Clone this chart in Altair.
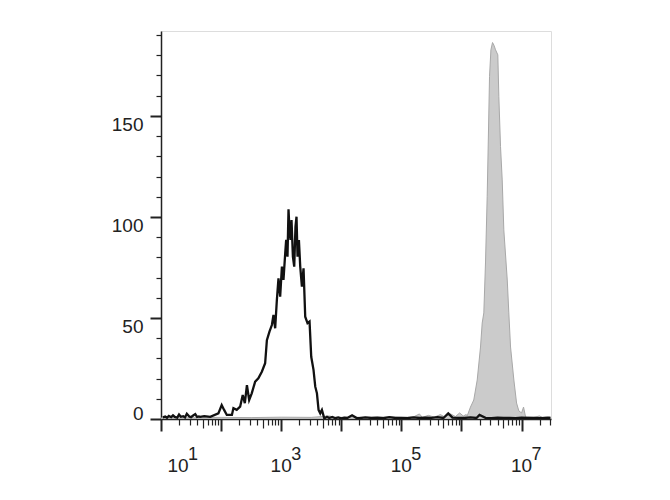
import altair as alt
import pandas as pd

# ---- data (log10 fluorescence intensity, cell count) ----
black_log = [1.03, 1.07, 1.10, 1.13, 1.17, 1.20, 1.23, 1.27, 1.30, 1.33, 1.37, 1.40, 1.43, 1.47,
             1.50, 1.53, 1.57, 1.60, 1.63, 1.65, 1.72, 1.82, 1.955, 2.01, 2.05, 2.095, 2.18, 2.205,
             2.26, 2.317, 2.36, 2.395, 2.43, 2.467, 2.51, 2.567, 2.62, 2.678, 2.733, 2.762, 2.805,
             2.845, 2.872, 2.90, 2.928, 2.955, 2.983, 3.012, 3.038, 3.067, 3.083, 3.105, 3.122,
             3.138, 3.155, 3.172, 3.195, 3.217, 3.238, 3.255, 3.272, 3.295, 3.317, 3.345, 3.372,
             3.40, 3.438, 3.472, 3.50, 3.538, 3.567, 3.595, 3.622, 3.65, 3.678, 3.717, 3.762,
             3.80, 3.85, 3.90, 3.95, 4.00, 4.05, 4.10, 4.18, 4.25, 4.30, 4.40, 4.50, 4.60, 4.70,
             4.80, 4.90, 5.00, 5.10, 5.20, 5.30, 5.40, 5.50, 5.60, 5.70, 5.78, 5.85, 5.95, 6.05,
             6.15, 6.25, 6.30, 6.40, 6.50, 6.60, 6.70, 6.80, 6.90, 7.00, 7.10, 7.20, 7.30, 7.40, 7.48]
black_cnt = [0.8, 1.2, 0.6, 1.5, 0.9, 1.8, 1.0, 0.7, 2.2, 1.1, 1.4, 0.8, 2.6, 1.2,
             0.9, 1.6, 2.4, 1.0, 1.3, 1.1, 1.4, 1.1, 2.8, 6.9, 4.5, 2.0, 2.0, 5.3,
             4.5, 6.1, 11.9, 7.8, 16.8, 9.4, 12.7, 18.5, 20.1, 23.4, 27.6, 39.0, 43.2,
             46.5, 51.5, 44.9, 58.9, 69.6, 60.5, 75.4, 68.8, 82.0, 88.6, 80.3, 103.8,
             93.6, 88.6, 98.5, 80.3, 75.4, 95.2, 100.1, 80.3, 88.6, 75.4, 65.5, 74.6,
             50.6, 47.4, 48.2, 30.8, 24.3, 16.0, 12.7, 4.5, 2.8, 4.5, 0.3, 1.1,
             0.5, 1.0, 0.4, 0.8, 0.3, 0.7, 0.5, 1.8, 0.6, 0.4, 0.8, 0.5, 0.7, 0.4,
             0.9, 0.5, 0.6, 0.4, 0.8, 0.5, 0.7, 0.6, 0.9, 0.5, 2.8, 0.7, 0.6, 0.5,
             0.8, 0.5, 2.0, 0.6, 0.4, 0.7, 0.5, 0.6, 0.4, 0.7, 0.5, 0.6, 0.4, 0.5, 0.6]

gray_log = [1.0, 1.5, 2.0, 2.5, 3.0, 3.5, 3.8, 3.9, 4.2, 4.5, 4.8, 5.0, 5.2, 5.3, 5.35, 5.45,
            5.55, 5.65, 5.72, 5.82, 5.9, 5.97, 6.03, 6.08, 6.095, 6.15, 6.205, 6.262, 6.317,
            6.345, 6.372, 6.40, 6.428, 6.45, 6.467, 6.49, 6.517, 6.54, 6.567, 6.605, 6.622,
            6.65, 6.678, 6.705, 6.762, 6.788, 6.817, 6.872, 6.917, 6.955, 7.0, 7.033, 7.067,
            7.1, 7.2, 7.3, 7.35, 7.45, 7.49]
gray_cnt = [0.5, 0.6, 0.8, 0.7, 0.9, 0.8, 1.5, 0.8, 0.9, 0.8, 1.0, 0.8, 1.0, 2.5, 0.8, 1.8,
            0.9, 2.2, 1.0, 2.5, 1.2, 3.0, 1.5, 2.2, 1.5, 5.9, 9.4, 19.3, 35.6,
            47.5, 52.5, 77.2, 110.0, 143.0, 169.5, 182.7, 186.3, 185.0, 182.7, 180.2, 159.6,
            134.8, 118.3, 93.6, 68.8, 52.5, 35.6, 19.3, 7.9, 4.0, 3.0, 5.9, 1.0,
            1.0, 0.8, 1.5, 0.7, 1.2, 0.8]

label_vals = [10, 1e3, 1e5, 1e7]
label_exps = ["1", "3", "5", "7"]
y_ticks = list(range(0, 191, 10))
x_ticks = [m * 10 ** k for k in range(1, 8) for m in range(1, 10) if m * 10 ** k <= 10 ** 7.49]

black = pd.DataFrame({"x": [10 ** v for v in black_log], "count": black_cnt})
gray = pd.DataFrame({"x": [10 ** v for v in gray_log], "count": gray_cnt})
labels = pd.DataFrame({"x": label_vals, "exp": label_exps})

W, H = 390, 388
FONT = "Liberation Sans"

xscale = alt.Scale(type="log", domain=[10, 10 ** 7.49], nice=False)
yscale = alt.Scale(domain=[0, 192], nice=False, zero=False)

decade = "abs(log(datum.value)/LN10 - round(log(datum.value)/LN10)) < 0.001"
five = "abs(datum.value / pow(10, floor(log(datum.value)/LN10 + 0.001)) - 5) < 0.01"
major_y = "datum.value % 50 === 0"

x_axis = alt.Axis(
    values=x_ticks, labels=False, title=None, grid=False,
    domainColor="#222", domainWidth=1.5, tickColor="#222",
    tickSize={"condition": [{"test": decade, "value": 12}, {"test": five, "value": 9}],
              "value": 6},
    tickWidth={"condition": {"test": decade, "value": 2}, "value": 1.2},
)
y_axis = alt.Axis(
    values=y_ticks, title=None, grid=False, labelOverlap=False, labelBound=False,
    labelExpr=f"{major_y} ? datum.label : ''",
    labelFont=FONT, labelFontSize=19, labelColor="#222", labelPadding=7,
    labelBaseline={"condition": {"test": "datum.value === 0", "value": "alphabetic"},
                   "value": "top"},
    domainColor="#222", domainWidth=1.5, tickColor="#222",
    tickSize={"condition": {"test": major_y, "value": 11}, "value": 5},
    tickWidth={"condition": {"test": major_y, "value": 2}, "value": 1.2},
)

area = alt.Chart(gray).mark_area(
    color="#cbcbcb", stroke="#a8a8a8", strokeWidth=1, interpolate="linear", clip=True
).encode(
    x=alt.X("x:Q", scale=xscale, axis=x_axis),
    y=alt.Y("count:Q", scale=yscale, axis=y_axis),
)

line = alt.Chart(black).mark_line(
    color="#111", strokeWidth=2.3, interpolate="linear", clip=True
).encode(
    x=alt.X("x:Q", scale=xscale, axis=x_axis),
    y=alt.Y("count:Q", scale=yscale, axis=y_axis),
)

first = labels[labels["x"] == 10]
rest = labels[labels["x"] != 10]

def base_text(df, dx):
    return alt.Chart(df).mark_text(
        text="10", font=FONT, fontSize=19, color="#222", align="center",
        baseline="alphabetic", dx=dx
    ).encode(x=alt.X("x:Q", scale=xscale, axis=x_axis), y=alt.value(H + 53))

def exp_text(df, dx):
    return alt.Chart(df).mark_text(
        font=FONT, fontSize=18, color="#222", align="left",
        baseline="alphabetic", dx=dx
    ).encode(x=alt.X("x:Q", scale=xscale, axis=x_axis), y=alt.value(H + 41), text="exp:N")

chart = alt.layer(
    area, line,
    base_text(rest, 0), exp_text(rest, 10),
    base_text(first, 17), exp_text(first, 27),
).properties(
    width=W, height=H,
    autosize=alt.AutoSizeParams(type="none"),
    padding={"left": 153, "top": 23, "right": 30, "bottom": 70},
).configure_view(
    stroke="#8a8a8a", strokeWidth=1
).configure_axisY(
    labelOverlap=False
).configure(background="white")

chart.save("out.html", embed_options={"renderer": "svg", "actions": False})
